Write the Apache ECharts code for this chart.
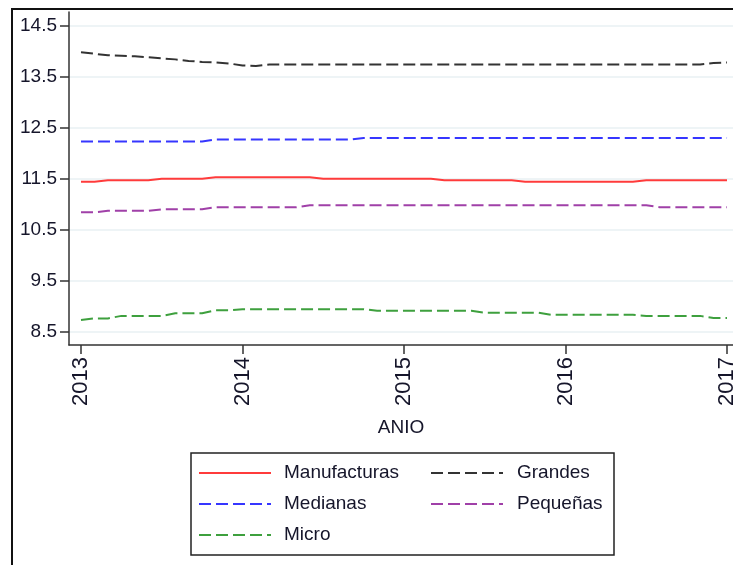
<!DOCTYPE html>
<html><head><meta charset="utf-8">
<script src="https://cdn.jsdelivr.net/npm/echarts@6/dist/echarts.min.js"></script>
<style>html,body{margin:0;padding:0;background:#fff}#c{width:733px;height:565px}</style>
</head><body><div id="c"></div>
<script>
// Tick labels
const years = [2013, 2014, 2015, 2016, 2017];
const yTicks = [8.5, 9.5, 10.5, 11.5, 12.5, 13.5, 14.5];
// Monthly observations, 2013m1 .. 2017m1 (axis positions in fractional years)
const months = Array.from({length: 49}, (_, i) => 2013 + i / 12);

const seriesNames = ['Manufacturas', 'Grandes', 'Medianas', 'Pequeñas', 'Micro'];

const manufacturas = [11.44,11.44,11.47,11.47,11.47,11.47,11.50,11.50,11.50,11.50,
  11.53,11.53,11.53,11.53,11.53,11.53,11.53,11.53,11.50,11.50,
  11.50,11.50,11.50,11.50,11.50,11.50,11.50,11.47,11.47,11.47,
  11.47,11.47,11.47,11.44,11.44,11.44,11.44,11.44,11.44,11.44,
  11.44,11.44,11.47,11.47,11.47,11.47,11.47,11.47,11.47];
const grandes = [13.98,13.95,13.92,13.91,13.90,13.88,13.86,13.84,13.81,13.79,
  13.78,13.76,13.72,13.71,13.74,13.74,13.74,13.74,13.74,13.74,
  13.74,13.74,13.74,13.74,13.74,13.74,13.74,13.74,13.74,13.74,
  13.74,13.74,13.74,13.74,13.74,13.74,13.74,13.74,13.74,13.74,
  13.74,13.74,13.74,13.74,13.74,13.74,13.74,13.77,13.78];
const medianas = [12.23,12.23,12.23,12.23,12.23,12.23,12.23,12.23,12.23,12.23,
  12.27,12.27,12.27,12.27,12.27,12.27,12.27,12.27,12.27,12.27,
  12.27,12.30,12.30,12.30,12.30,12.30,12.30,12.30,12.30,12.30,
  12.30,12.30,12.30,12.30,12.30,12.30,12.30,12.30,12.30,12.30,
  12.30,12.30,12.30,12.30,12.30,12.30,12.30,12.30,12.30];
const pequenas = [10.84,10.84,10.87,10.87,10.87,10.87,10.90,10.90,10.90,10.90,
  10.94,10.94,10.94,10.94,10.94,10.94,10.94,10.98,10.98,10.98,
  10.98,10.98,10.98,10.98,10.98,10.98,10.98,10.98,10.98,10.98,
  10.98,10.98,10.98,10.98,10.98,10.98,10.98,10.98,10.98,10.98,
  10.98,10.98,10.98,10.94,10.94,10.94,10.94,10.94,10.94];
const micro = [8.73,8.76,8.76,8.81,8.81,8.81,8.81,8.86,8.86,8.86,
  8.92,8.92,8.94,8.94,8.94,8.94,8.94,8.94,8.94,8.94,
  8.94,8.94,8.91,8.91,8.91,8.91,8.91,8.91,8.91,8.91,
  8.87,8.87,8.87,8.87,8.87,8.83,8.83,8.83,8.83,8.83,
  8.83,8.83,8.81,8.81,8.81,8.81,8.81,8.77,8.77];

const seriesData = [manufacturas, grandes, medianas, pequenas, micro];
const colors = ['#ff3b3b', '#333333', '#3636ff', '#a040a8', '#3ea03e'];
const dashes = ['solid', [12, 5], [12, 5], [12, 5], [12, 5]];

const FONT = 'Liberation Sans, Arial, sans-serif';
const TXT = '#15152a';

const legendCommon = {
  orient: 'vertical', top: 463, itemWidth: 72, itemHeight: 20, itemGap: 11, padding: 0,
  itemStyle: {opacity: 0}
};

const chart = echarts.init(document.getElementById('c'), null, {renderer: 'canvas'});
chart.setOption({
  animation: false,
  backgroundColor: '#ffffff',
  textStyle: {fontFamily: FONT},
  grid: {left: 69, right: 0, top: 12, bottom: 220, containLabel: false, outerBoundsMode: 'none'},
  xAxis: {
    type: 'value', min: 2012.9257, max: 2017.037,
    axisLine: {onZero: false, lineStyle: {color: '#333', width: 1.5}},
    axisTick: {customValues: years, length: 9, lineStyle: {color: '#333', width: 1.5}},
    axisLabel: {customValues: years, rotate: 90, fontSize: 22, color: TXT, margin: 12, fontFamily: FONT,
      formatter: v => String(v)},
    splitLine: {show: false},
    name: 'ANIO', nameLocation: 'middle', nameGap: 73,
    nameTextStyle: {fontSize: 19, color: TXT, fontFamily: FONT}
  },
  yAxis: {
    type: 'value', min: 8.239, max: 14.769,
    axisLine: {show: true, lineStyle: {color: '#333', width: 1.5}},
    axisTick: {show: true, customValues: yTicks, length: 9, lineStyle: {color: '#333', width: 1.5}},
    axisLabel: {customValues: yTicks, fontSize: 19, color: TXT, margin: 12, fontFamily: FONT,
      formatter: v => v.toFixed(1)},
    splitLine: {show: true, lineStyle: {color: '#e9f0f3', width: 1.5}}
  },
  legend: [
    Object.assign({data: ['Manufacturas', 'Medianas', 'Micro'], left: 198,
     textStyle: {fontSize: 19, color: TXT, fontFamily: FONT, lineHeight: 20, padding: [0, 0, 0, 8]}}, legendCommon),
    Object.assign({data: ['Grandes', 'Pequeñas'], left: 430,
     textStyle: {fontSize: 19, color: TXT, fontFamily: FONT, lineHeight: 20, padding: [0, 0, 0, 9]}}, legendCommon)
  ],
  graphic: [
    {type: 'rect', shape: {x: 12, y: 9, width: 800, height: 700},
     style: {fill: 'none', stroke: '#111', lineWidth: 2}, silent: true},
    {type: 'rect', shape: {x: 191, y: 453, width: 423, height: 102},
     style: {fill: 'none', stroke: '#222', lineWidth: 1.5}, silent: true}
  ],
  series: seriesNames.map((name, k) => ({
    name: name, type: 'line', symbol: 'none', showSymbol: false,
    data: months.map((t, i) => [t, seriesData[k][i]]),
    lineStyle: {color: colors[k], width: 2, type: dashes[k]},
    itemStyle: {color: colors[k]},
    emphasis: {disabled: true}
  }))
});
</script>
</body></html>
